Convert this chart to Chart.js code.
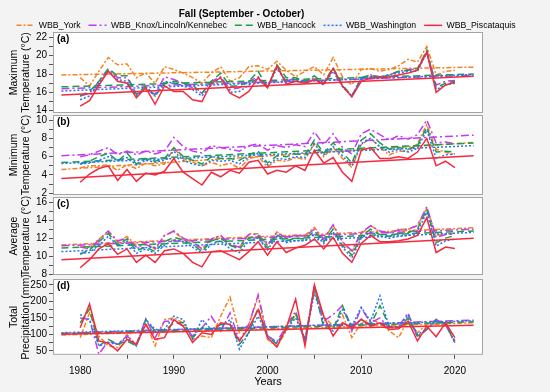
<!DOCTYPE html>
<html>
<head>
<meta charset="utf-8">
<script src="https://cdn.jsdelivr.net/npm/chart.js"></script>
<style>
  html, body { margin: 0; padding: 0; background: #f3f3f3; }
  #wrap { position: relative; width: 550px; height: 392px; overflow: hidden; }
  #wrap canvas { position: absolute; left: 0; }
</style>
</head>
<body>
<div id="wrap">
  <canvas id="cA" width="550" height="121" style="top:0px"></canvas>
  <canvas id="cB" width="550" height="96" style="top:107px"></canvas>
  <canvas id="cC" width="550" height="94" style="top:189px"></canvas>
  <canvas id="cD" width="550" height="121" style="top:271px"></canvas>
  <canvas id="cLegend" width="550" height="40" style="top:13px"></canvas>
</div>
<script>
// series
var seriesNames = ['WBB_York', 'WBB_Knox/Lincoln/Kennebec', 'WBB_Hancock', 'WBB_Washington', 'WBB_Piscataquis'];
var seriesColors = ['#f5821f', '#c23cf0', '#1c9e46', '#2475f2', '#f42a3e'];
var seriesDash = [[5, 2, 2, 2], [8, 3, 2, 3], [7, 4], [2, 2], []];

var years = [1980, 1981, 1982, 1983, 1984, 1985, 1986, 1987, 1988, 1989,
             1990, 1991, 1992, 1993, 1994, 1995, 1996, 1997, 1998, 1999,
             2000, 2001, 2002, 2003, 2004, 2005, 2006, 2007, 2008, 2009,
             2010, 2011, 2012, 2013, 2014, 2015, 2016, 2017, 2018, 2019, 2020];
var trendYears = [1978, 2022];

// (a) maximum temperature
var maxYork = [17.6, 16.7, 18.3, 19.8, 19.0, 19.1, 17.6, 18.1, 17.0, 18.8, 18.5, 18.1, 17.6, 17.0, 18.1, 18.8, 17.2, 17.6, 18.8, 18.9, 18.5, 19.4, 18.4, 17.7, 18.3, 18.8, 17.9, 19.8, 17.7, 16.8, 18.5, 18.6, 18.3, 18.5, 18.9, 19.6, 19.3, 21.0, 17.9, 18.3, 18.4];
var maxKnox = [15.6, 15.9, 17.2, 18.5, 17.6, 17.6, 15.8, 16.3, 15.8, 17.7, 17.4, 17.0, 16.5, 15.9, 17.2, 17.7, 16.3, 16.5, 17.2, 17.7, 16.7, 18.8, 17.2, 17.6, 17.2, 17.6, 16.8, 18.6, 16.7, 15.6, 17.4, 17.9, 17.7, 17.9, 18.3, 18.5, 18.5, 20.5, 16.8, 17.2, 17.3];
var maxHancock = [15.6, 16.1, 17.2, 18.6, 17.8, 17.8, 15.8, 16.7, 15.6, 17.0, 17.2, 17.0, 16.8, 15.9, 17.2, 18.1, 16.7, 16.7, 17.2, 18.3, 16.5, 19.0, 17.6, 17.6, 17.2, 17.8, 17.0, 18.7, 16.8, 15.6, 17.6, 17.9, 17.6, 17.9, 18.3, 18.4, 18.6, 20.6, 16.5, 17.0, 17.2];
var maxWashington = [15.2, 15.6, 17.0, 18.3, 17.4, 17.2, 15.6, 16.5, 15.6, 17.2, 17.0, 16.7, 16.3, 15.6, 16.8, 17.6, 16.0, 16.1, 16.8, 17.6, 16.6, 18.6, 17.2, 17.4, 17.0, 17.4, 16.8, 18.3, 16.6, 15.6, 17.6, 17.7, 17.7, 17.9, 18.1, 18.3, 18.3, 20.3, 16.3, 16.8, 17.0];
var maxPiscataquis = [14.5, 15.1, 16.8, 18.3, 17.2, 17.0, 15.4, 16.5, 14.7, 16.7, 16.1, 16.1, 15.2, 15.0, 17.0, 17.6, 15.9, 15.4, 16.1, 17.6, 16.5, 18.9, 16.9, 17.2, 17.0, 17.4, 16.9, 18.6, 16.7, 15.5, 17.2, 17.6, 17.6, 17.7, 17.9, 18.1, 18.4, 20.4, 16.0, 16.8, 17.1];
var maxTrendStart = [17.9, 16.4, 16.6, 16.15, 15.7];
var maxTrendEnd = [18.75, 17.85, 18.0, 17.95, 17.75];

// (b) minimum temperature
var minYork = [4.8, 5.0, 5.0, 5.1, 4.5, 5.1, 4.7, 5.3, 5.0, 5.2, 6.9, 5.8, 5.4, 5.0, 5.4, 5.0, 5.3, 4.7, 5.8, 6.0, 4.9, 5.6, 5.5, 5.9, 5.7, 7.4, 6.0, 7.0, 5.8, 4.8, 7.3, 8.0, 7.0, 6.2, 6.6, 6.6, 7.4, 9.5, 6.8, 6.5, 6.2];
var minKnox = [6.0, 6.2, 6.6, 7.0, 6.2, 6.6, 6.2, 6.6, 6.3, 6.6, 8.1, 7.1, 6.6, 6.4, 7.2, 7.0, 6.8, 6.6, 7.2, 7.4, 6.7, 7.2, 7.0, 7.3, 7.1, 8.7, 7.3, 8.5, 7.0, 6.3, 8.5, 9.0, 8.4, 7.8, 8.3, 7.9, 8.4, 10.0, 7.5, 7.6, 7.4];
var minHancock = [5.2, 5.5, 6.0, 6.4, 5.5, 6.4, 5.2, 5.8, 5.5, 5.8, 7.0, 6.0, 5.6, 5.2, 6.0, 5.8, 5.8, 5.6, 6.2, 6.6, 5.3, 6.1, 6.0, 6.3, 6.2, 7.8, 6.4, 7.5, 6.5, 5.3, 7.8, 8.5, 7.5, 6.8, 7.0, 6.8, 7.2, 9.2, 6.5, 6.6, 6.5];
var minWashington = [5.2, 5.3, 5.6, 6.0, 5.6, 5.9, 5.1, 5.6, 5.4, 5.6, 6.6, 5.6, 5.2, 5.0, 5.6, 5.5, 5.6, 5.2, 6.0, 6.4, 5.1, 5.8, 5.7, 6.0, 5.9, 7.4, 6.2, 7.1, 6.1, 5.0, 7.4, 8.0, 7.1, 6.5, 6.8, 6.5, 6.9, 8.9, 5.8, 6.2, 6.3];
var minPiscataquis = [3.2, 4.1, 4.7, 5.0, 3.4, 4.6, 3.3, 4.2, 4.0, 4.4, 5.8, 4.3, 3.6, 2.9, 4.3, 3.8, 4.5, 4.2, 5.4, 5.6, 4.1, 4.5, 4.3, 5.0, 4.5, 6.7, 5.3, 5.9, 4.3, 3.3, 6.7, 7.0, 5.8, 5.8, 6.0, 5.8, 6.5, 8.0, 5.0, 5.5, 4.8];
var minTrendStart = [4.6, 6.1, 5.35, 5.25, 3.6];
var minTrendEnd = [7.55, 8.35, 7.5, 7.2, 6.1];

// (c) average temperature
var avgYork = [11.1, 11.0, 11.9, 12.7, 11.6, 12.2, 11.2, 11.4, 10.8, 12.3, 12.7, 11.9, 11.6, 10.7, 11.9, 12.3, 11.2, 11.0, 12.5, 12.5, 11.2, 12.7, 12.1, 12.3, 12.3, 13.2, 11.9, 13.4, 11.6, 10.4, 12.5, 13.4, 12.7, 12.6, 13.0, 13.0, 13.4, 15.3, 12.3, 12.5, 12.5];
var avgKnox = [11.0, 10.8, 11.8, 12.8, 11.7, 12.0, 11.0, 11.3, 10.8, 12.3, 12.8, 12.0, 11.6, 10.8, 11.9, 12.3, 11.3, 11.0, 12.4, 12.4, 11.2, 12.6, 12.0, 12.3, 12.2, 13.0, 11.9, 13.5, 11.6, 10.6, 12.6, 13.4, 12.8, 12.6, 12.9, 13.0, 13.4, 15.5, 12.1, 12.4, 12.5];
var avgHancock = [10.2, 10.7, 11.6, 12.5, 11.3, 11.9, 10.6, 11.0, 10.5, 11.6, 12.1, 11.8, 11.3, 10.5, 11.7, 12.0, 11.2, 10.8, 12.0, 12.2, 10.9, 12.4, 11.7, 12.0, 11.9, 12.8, 11.6, 13.0, 11.2, 10.1, 12.2, 13.0, 12.4, 12.2, 12.5, 12.6, 13.0, 15.2, 11.5, 12.0, 12.3];
var avgWashington = [10.3, 10.4, 11.2, 12.2, 11.2, 11.6, 10.3, 10.8, 10.3, 11.2, 11.8, 11.6, 11.0, 10.3, 11.3, 11.7, 10.8, 10.4, 11.7, 12.0, 10.7, 12.2, 11.5, 11.7, 11.7, 12.5, 11.4, 12.7, 11.0, 9.8, 12.0, 12.7, 12.2, 12.0, 12.2, 12.3, 12.7, 14.9, 11.1, 11.7, 11.9];
var avgPiscataquis = [8.7, 9.6, 10.8, 11.4, 10.2, 10.8, 9.3, 10.1, 9.3, 10.6, 10.8, 10.3, 9.3, 8.8, 10.5, 10.6, 10.1, 9.6, 10.5, 11.6, 10.1, 11.6, 10.4, 10.9, 11.2, 11.9, 10.8, 12.1, 10.3, 9.3, 11.4, 12.3, 11.6, 11.6, 11.7, 11.9, 12.3, 14.3, 10.4, 11.0, 10.85];
var avgTrendStart = [11.25, 11.15, 10.9, 10.5, 9.6];
var avgTrendEnd = [13.15, 13.0, 12.8, 12.65, 12.0];

// (d) total precipitation
var precYork = [90, 165, 95, 65, 60, 100, 65, 135, 65, 145, 150, 135, 85, 95, 90, 155, 213, 105, 130, 215, 85, 63, 110, 160, 80, 235, 155, 125, 160, 90, 135, 145, 135, 110, 90, 145, 105, 130, 130, 130, 73];
var precKnox = [150, 145, 40, 80, 70, 95, 70, 147, 90, 140, 140, 125, 95, 120, 155, 110, 165, 80, 130, 220, 95, 78, 125, 170, 75, 250, 140, 160, 187, 110, 180, 135, 150, 120, 125, 165, 90, 115, 145, 130, 75];
var precHancock = [135, 177, 65, 85, 70, 80, 65, 145, 110, 110, 135, 135, 90, 120, 115, 130, 130, 70, 105, 180, 95, 70, 115, 165, 85, 240, 120, 115, 187, 120, 145, 130, 187, 125, 120, 150, 95, 115, 145, 130, 80];
var precWashington = [160, 145, 65, 75, 70, 90, 65, 145, 115, 115, 155, 145, 85, 145, 115, 120, 145, 55, 105, 155, 95, 75, 115, 150, 85, 225, 135, 110, 175, 125, 182, 140, 217, 120, 120, 160, 100, 115, 140, 135, 75];
var precPiscataquis = [120, 192, 80, 73, 50, 85, 70, 130, 85, 90, 145, 125, 75, 105, 100, 135, 130, 80, 120, 175, 90, 62, 120, 207, 65, 250, 155, 95, 135, 120, 147, 125, 135, 115, 117, 140, 80, 125, 93, 135, 90];
var precTrendStart = [98, 103, 102, 105, 100];
var precTrendEnd = [135, 143, 138, 141, 128];

// tick labels
var maxTicks = [14, 16, 18, 20, 22], maxMinor = [15, 17, 19, 21];
var minTicks = [2, 4, 6, 8, 10], minMinor = [3, 5, 7, 9];
var avgTicks = [8, 10, 12, 14, 16], avgMinor = [9, 11, 13, 15];
var precTicks = [50, 100, 150, 200, 250], precMinor = [75, 125, 175, 225];
var yearTicks = [1980, 1990, 2000, 2010, 2020], yearMinor = [1985, 1995, 2005, 2015];

Chart.defaults.font.family = "'Liberation Sans', Arial, sans-serif";
Chart.defaults.color = '#000';

function framePlugin(tag) {
    return {
        id: 'frame',
        beforeDraw: function (chart) {
            var a = chart.chartArea, ctx = chart.ctx;
            ctx.save();
            ctx.fillStyle = '#fff';
            ctx.fillRect(a.left, a.top, a.right - a.left, a.bottom - a.top);
            ctx.restore();
        },
        afterDraw: function (chart) {
            var a = chart.chartArea, ctx = chart.ctx;
            ctx.save();
            ctx.strokeStyle = '#a4a4a4';
            ctx.lineWidth = 1;
            ctx.strokeRect(a.left + 0.5, a.top + 0.5, a.right - a.left - 1, a.bottom - a.top - 1);
            ctx.fillStyle = '#000';
            ctx.font = "bold 10px 'Liberation Sans', Arial, sans-serif";
            ctx.textBaseline = 'middle';
            ctx.fillText(tag, a.left + 4, a.top + 7);
            ctx.restore();
        }
    };
}

function allTicks(major, minor) {
    return major.concat(minor).sort(function (p, q) { return p - q; });
}

function makePanel(id, p) {
    var datasets = [];
    // Piscataquis first so it is drawn on top
    for (var i = seriesNames.length - 1; i >= 0; i--) {
        var style = {
            borderColor: seriesColors[i],
            borderDash: seriesDash[i],
            borderWidth: 1.5,
            pointRadius: 0,
            fill: false,
            tension: 0
        };
        datasets.push(Object.assign({
            label: seriesNames[i],
            data: years.map(function (yr, k) { return {x: yr, y: p.values[i][k]}; })
        }, style));
        datasets.push(Object.assign({
            label: seriesNames[i] + ' trend',
            data: trendYears.map(function (yr, k) { return {x: yr, y: k ? p.trendEnd[i] : p.trendStart[i]}; })
        }, style));
    }

    return new Chart(document.getElementById(id), {
        type: 'line',
        data: {datasets: datasets},
        plugins: [framePlugin(p.tag)],
        options: {
            responsive: false,
            animation: false,
            layout: {padding: {left: 0, right: 67, top: p.padTop, bottom: p.padBottom}},
            plugins: {
                legend: {display: false},
                tooltip: {enabled: false},
                title: p.title ? {
                    display: true,
                    text: p.title,
                    font: {size: 10, weight: 'bold'},
                    color: '#000',
                    padding: {top: 8, bottom: 12}
                } : {display: false}
            },
            scales: {
                x: {
                    type: 'linear',
                    min: 1977.1,
                    max: 2023,
                    display: !!p.showX,
                    afterBuildTicks: function (s) {
                        s.ticks = allTicks(yearTicks, yearMinor).map(function (v) { return {value: v}; });
                    },
                    ticks: {
                        autoSkip: false,
                        maxRotation: 0,
                        padding: 6,
                        font: {size: 10},
                        color: '#000',
                        callback: function (v) { return yearTicks.indexOf(v) >= 0 ? String(v) : ''; }
                    },
                    grid: {drawOnChartArea: false, tickLength: 4, color: '#555'},
                    border: {display: false},
                    title: {
                        display: !!p.showX,
                        text: 'Years',
                        font: {size: 11},
                        color: '#000',
                        padding: {top: -7, bottom: 2}
                    }
                },
                y: {
                    min: p.yMin,
                    max: p.yMax,
                    afterFit: function (s) { s.width = 53; },
                    afterBuildTicks: function (s) {
                        s.ticks = allTicks(p.ticks, p.minor).map(function (v) { return {value: v}; });
                    },
                    ticks: {
                        autoSkip: false,
                        padding: 2,
                        font: {size: 10},
                        color: '#000',
                        callback: function (v) { return p.ticks.indexOf(v) >= 0 ? String(v) : ''; }
                    },
                    grid: {drawOnChartArea: false, tickLength: 4, color: '#555'},
                    border: {display: false},
                    title: {
                        display: true,
                        text: p.yTitle,
                        font: {size: 10.5, lineHeight: 1.15},
                        color: '#000',
                        padding: {top: 8, bottom: 0}
                    }
                }
            }
        }
    });
}

makePanel('cA', {
    tag: '(a)', title: 'Fall (September - October)', padTop: 0, padBottom: 8,
    values: [maxYork, maxKnox, maxHancock, maxWashington, maxPiscataquis],
    trendStart: maxTrendStart, trendEnd: maxTrendEnd,
    yMin: 13.75, yMax: 22.58, ticks: maxTicks, minor: maxMinor,
    yTitle: ['Maximum', 'Temperature (°C)']
});
makePanel('cB', {
    tag: '(b)', padTop: 8, padBottom: 8,
    values: [minYork, minKnox, minHancock, minWashington, minPiscataquis],
    trendStart: minTrendStart, trendEnd: minTrendEnd,
    yMin: 1.81, yMax: 10.55, ticks: minTicks, minor: minMinor,
    yTitle: ['Minimum', 'Temperature (°C)']
});
makePanel('cC', {
    tag: '(c)', padTop: 8, padBottom: 8,
    values: [avgYork, avgKnox, avgHancock, avgWashington, avgPiscataquis],
    trendStart: avgTrendStart, trendEnd: avgTrendEnd,
    yMin: 7.89, yMax: 16.59, ticks: avgTicks, minor: avgMinor,
    yTitle: ['Average', 'Temperature (°C)']
});
makePanel('cD', {
    tag: '(d)', padTop: 8, padBottom: 1, showX: true,
    values: [precYork, precKnox, precHancock, precWashington, precPiscataquis],
    trendStart: precTrendStart, trendEnd: precTrendEnd,
    yMin: 38, yMax: 268, ticks: precTicks, minor: precMinor,
    yTitle: ['Total', 'Precipitation (mm)']
});

// shared legend
new Chart(document.getElementById('cLegend'), {
    type: 'line',
    data: {
        datasets: seriesNames.map(function (n, i) {
            return {label: n, data: [], borderColor: seriesColors[i], borderDash: seriesDash[i], borderWidth: 1.5};
        })
    },
    options: {
        responsive: false,
        animation: false,
        layout: {padding: {left: 0, right: 18}},
        scales: {x: {display: false}, y: {display: false}},
        plugins: {
            tooltip: {enabled: false},
            legend: {
                display: true,
                labels: {
                    usePointStyle: true,
                    pointStyle: 'line',
                    pointStyleWidth: 18,
                    boxHeight: 9,
                    padding: 8,
                    font: {size: 8.7},
                    color: '#000',
                    generateLabels: function () {
                        return seriesNames.map(function (n, i) {
                            return {
                                text: n, fontColor: '#000', hidden: false, datasetIndex: i,
                                strokeStyle: seriesColors[i], fillStyle: seriesColors[i],
                                lineDash: seriesDash[i], lineWidth: 1.5, pointStyle: 'line'
                            };
                        });
                    }
                }
            }
        }
    }
});
</script>
</body>
</html>
